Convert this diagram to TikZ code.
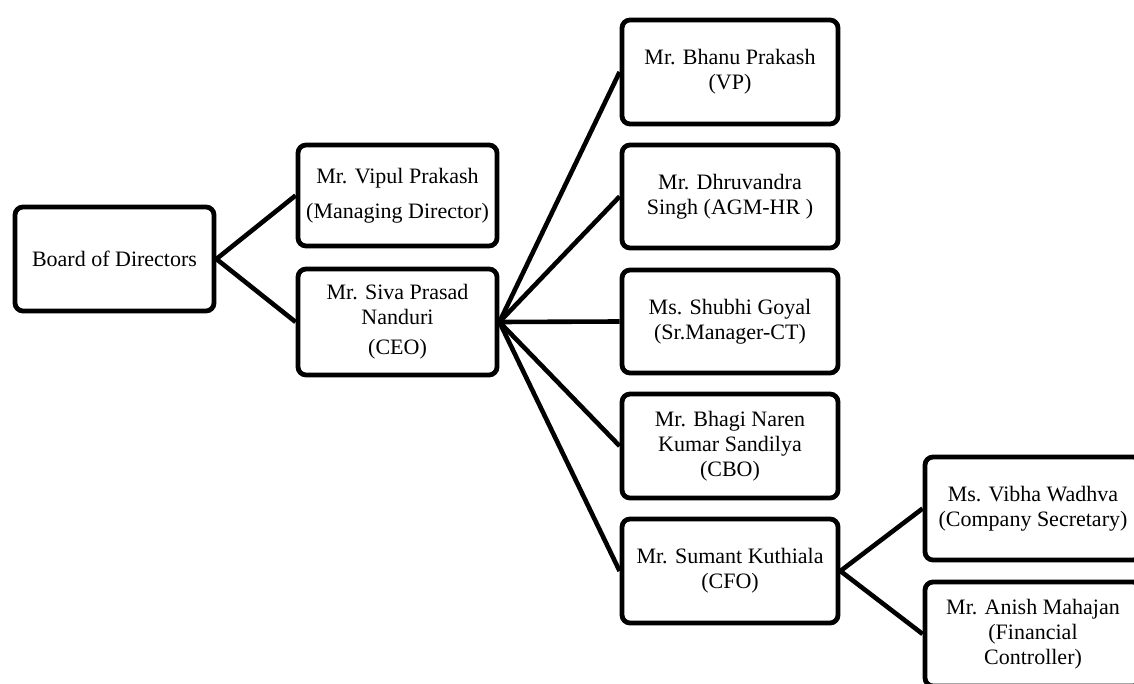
\documentclass[tikz,border=0pt]{standalone}
\usepackage{fontspec}
\setmainfont{Liberation Serif}
\usepackage{tikz}

\begin{document}
\begin{tikzpicture}[x=0.5pt,y=-0.5pt,
		member/.style={draw=black, line width=2.4pt, rounded corners=4pt, align=center, inner sep=1pt, font=\fontsize{11}{12.5}\selectfont},
		link/.style={black, line width=2.3pt}]
			\useasboundingbox (0,0) rectangle (1134,684);
			\clip (0,0) rectangle (1134,684);
			\node[member, minimum width=99.5pt, minimum height=52pt] (board) at (114.5,259) {Board of Directors};
			\node[member, minimum width=99.5pt, minimum height=50.5pt] (vipul) at (397.5,195.5) {Mr. Vipul Prakash\\[5pt](Managing Director)};
			\node[member, minimum width=99.5pt, minimum height=53pt] (siva) at (397.5,322) {Mr. Siva Prasad\\Nanduri\\[2.5pt](CEO)};
			\node[member, minimum width=108pt, minimum height=52pt] (bhanu) at (730,72) {Mr. Bhanu Prakash\\(VP)};
			\node[member, minimum width=108pt, minimum height=51.5pt] (dhruv) at (730,196.5) {Mr. Dhruvandra\\Singh (AGM-HR )};
			\node[member, minimum width=108pt, minimum height=51.5pt] (shubhi) at (730,321.5) {Ms. Shubhi Goyal\\(Sr.Manager-CT)};
			\node[member, minimum width=108pt, minimum height=52pt] (bhagi) at (730,446) {Mr. Bhagi Naren\\Kumar Sandilya\\(CBO)};
			\node[member, minimum width=108pt, minimum height=52pt] (sumant) at (730,571) {Mr. Sumant Kuthiala\\(CFO)};
			\node[member, minimum width=108pt, minimum height=51.5pt] (vibha) at (1033,508.5) {Ms. Vibha Wadhva\\(Company Secretary)};
			\node[member, minimum width=108pt, minimum height=52pt] (anish) at (1033,634) {Mr. Anish Mahajan\\(Financial\\Controller)};
			\draw[link] (board.east) -- (vipul.west);
			\draw[link] (board.east) -- (siva.west);
			\draw[link] (siva.east) -- (bhanu.west);
			\draw[link] (siva.east) -- (dhruv.west);
			\draw[link] (siva.east) -- (shubhi.west);
			\draw[link] (siva.east) -- (bhagi.west);
			\draw[link] (siva.east) -- (sumant.west);
			\draw[link] (sumant.east) -- (vibha.west);
			\draw[link] (sumant.east) -- (anish.west);
		\end{tikzpicture}
\end{document}
